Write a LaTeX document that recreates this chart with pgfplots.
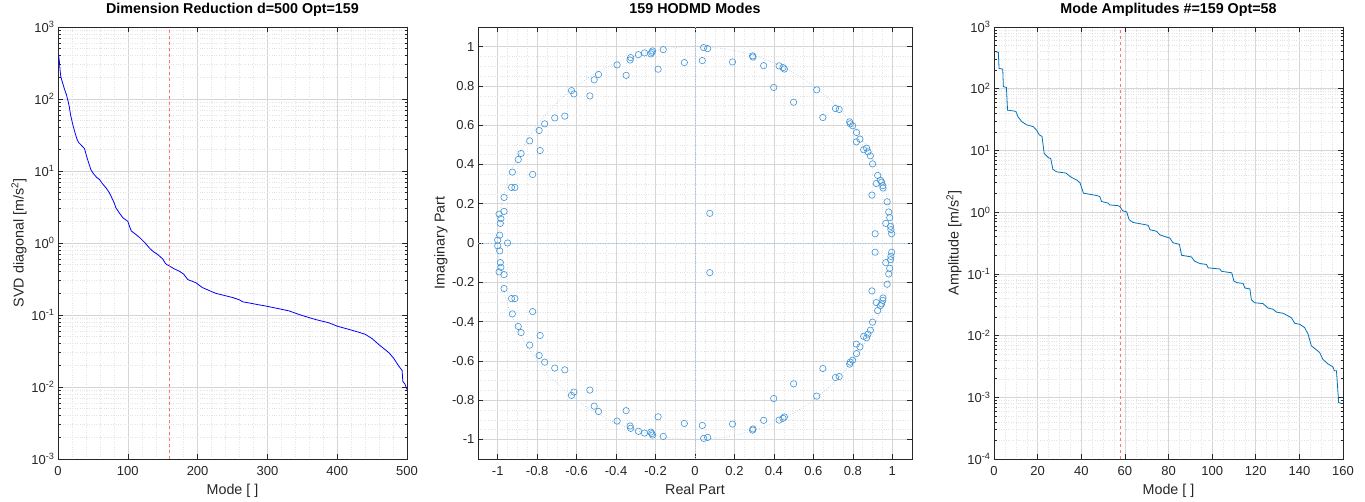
\documentclass[border=0pt]{standalone}
\usepackage{fontspec}
\setmainfont{Liberation Sans}
\usepackage{pgfplots}
\pgfplotsset{compat=1.18}
\usepackage{pgfplotstable}
\definecolor{axgray}{rgb}{0.15,0.15,0.15}
\definecolor{gridgray}{rgb}{0.84,0.84,0.84}
\definecolor{mgridgray}{rgb}{0.89,0.89,0.89}
\definecolor{mblue}{rgb}{0,0.447,0.741}
\definecolor{lred}{rgb}{1,0.45,0.45}
\definecolor{mkblue}{rgb}{0.25,0.58,0.84}
\definecolor{circblue}{rgb}{0.62,0.76,0.9}

\pgfplotstableread{
x y
1 395
2 330
3 250
4 205
6 175
9 140
12 115
14 97
16 80
18 60
21 45
24 35
27 28
29.5 24.9
33 23
38 20.4
41 16
44 12.9
47 10.5
50 9.4
55 8.2
59.5 7.6
64 6.6
69 5.8
73 5.1
76 4.47
80 3.7
83 3.08
88 2.6
93 2.24
100 2.0
102 1.75
105 1.47
110 1.35
117 1.19
124 1.02
131 0.85
136 0.766
143 0.69
150 0.60
154 0.52
156 0.50
159.5 0.48
166 0.44
174 0.405
180 0.37
186 0.31
192 0.295
197.6 0.28
202 0.26
207 0.24
216 0.22
226 0.20
240 0.185
250 0.175
259.5 0.163
265 0.152
274 0.147
285 0.14
298 0.133
315 0.123
331 0.114
345 0.102
355 0.095
370 0.086
388 0.078
400 0.070
417 0.063
430 0.058
440 0.054
450 0.047
459.5 0.039
467 0.034
474 0.030
481 0.025
488 0.0196
493 0.0170
494 0.012
497 0.011
500 0.0092
}\svd

\pgfplotstableread{
x y
1 395
2 390
2.3 213
4 208
4.3 108
5.7 105
6.2 45
10 43
11 35
12.7 29.3
15 25.9
18 24.3
19.5 21.3
20.8 17.8
22 16.9
23 8.95
25 7.6
26 7.4
27 4.93
28.7 4.5
33 4.3
35 3.75
38 3.3
39.4 3.0
41 2.03
47 1.86
48.5 1.79
49.3 1.49
52.4 1.40
53 1.31
57 1.27
57.7 1.23
59 1.05
60.8 1.01
62 0.75
63.8 0.68
70 0.62
70.7 0.61
71.5 0.52
74.5 0.49
76 0.43
79 0.395
80.6 0.38
82 0.32
85 0.30
86 0.20
90.5 0.188
92 0.16
94.4 0.147
97.4 0.142
98.2 0.125
103.5 0.120
104.3 0.11
109 0.104
110 0.076
111.5 0.072
114.2 0.070
115 0.059
117.3 0.057
118 0.038
119.5 0.034
123.3 0.033
125.6 0.028
128 0.0266
129.5 0.024
132.5 0.023
136.3 0.0195
137.9 0.0158
140.2 0.0152
142.4 0.0135
144 0.0105
145.5 0.0068
147 0.0062
149.3 0.0053
150.8 0.0041
153 0.0035
155.4 0.0031
156 0.0027
157 0.0027
158 0.00082
159 0.0008
}\amp

\pgfplotstableread{
x y
0.044 0.995
0.064 0.99
0.037 0.929
-0.054 0.919
0.19 0.922
0.292 0.953
0.294 0.947
0.348 0.903
0.426 0.902
0.446 0.893
0.453 0.886
0.399 0.792
0.50 0.717
0.617 0.78
0.648 0.639
0.712 0.685
0.731 0.68
0.784 0.617
0.787 0.607
0.799 0.597
0.819 0.563
0.836 0.529
0.818 0.515
0.87 0.483
0.855 0.475
0.877 0.464
0.889 0.444
0.90 0.403
0.926 0.344
0.94 0.319
0.946 0.31
0.952 0.292
0.953 0.28
0.919 0.303
0.897 0.244
0.974 0.21
0.982 0.158
0.987 0.129
0.967 0.10
0.991 0.085
0.993 0.068
0.997 0.047
0.913 0.047
0.075 0.151
-0.161 0.985
-0.215 0.978
-0.219 0.971
-0.224 0.963
-0.256 0.968
-0.287 0.959
-0.326 0.944
-0.329 0.932
-0.187 0.885
-0.395 0.907
-0.349 0.854
-0.489 0.858
-0.511 0.831
-0.533 0.749
-0.626 0.776
-0.614 0.759
-0.66 0.646
-0.711 0.637
-0.762 0.607
-0.79 0.573
-0.838 0.52
-0.785 0.471
-0.823 0.349
-0.882 0.456
-0.896 0.425
-0.926 0.361
-0.93 0.283
-0.913 0.283
-0.968 0.232
-0.968 0.161
-0.993 0.147
-0.984 0.124
-0.987 0.10
-0.99 0.04
-1.0 0.015
}\modes

\pgfplotsset{
 matstyle/.style={
  scale only axis,
  axis line style={axgray, line width=0.7pt},
  grid=both,
  major grid style={gridgray, line width=0.6pt},
  minor grid style={mgridgray, dotted, line width=0.4pt},
  tick style={axgray, line width=0.6pt},
  major tick length=5pt, minor tick length=2.5pt,
  minor x tick style={draw=none},
  tick label style={font=\fontsize{13}{15}\selectfont, text=axgray},
  label style={font=\fontsize{14.3}{16}\selectfont, text=axgray},
  title style={font=\fontsize{14.3}{16}\selectfont\bfseries, at={(0.5,1)}, anchor=base, yshift=7pt},
  xlabel style={at={(0.5,0)}, anchor=base, yshift=-36pt},
  /pgf/number format/assume math mode=true,
  xticklabel style={yshift=-4pt},
 },
}

\begin{document}
\begin{tikzpicture}
\useasboundingbox (0,0) rectangle (1365pt,502pt);
% Left axis
\begin{axis}[matstyle, at={(58pt,43pt)}, anchor=south west,
  width=349pt, height=432pt,
  xmin=0, xmax=500, xtick={0,100,...,500}, minor x tick num=4,
  ymode=log, ymin=1e-3, ymax=1e3,
  ytick={1e-3,1e-2,1e-1,1,1e1,1e2,1e3},
  yticklabels={10\textsuperscript{-3},10\textsuperscript{-2},10\textsuperscript{-1},10\textsuperscript{0},10\textsuperscript{1},10\textsuperscript{2},10\textsuperscript{3}},
  title={Dimension Reduction d=500 Opt=159},
  xlabel={Mode [ ]},
  ylabel={SVD diagonal [m/s\textsuperscript{2}]},
  ylabel style={at={(0,0.5)}, anchor=center, yshift=39pt},
]
\addplot[blue, line width=0.8pt] table[x=x,y=y] {\svd};
\addplot[lred, dashed, line width=0.8pt] coordinates {(159,1e-3) (159,1e3)};
\end{axis}
% Middle axis
\begin{axis}[matstyle, at={(478pt,43pt)}, anchor=south west,
  width=434pt, height=432pt,
  xmin=-1.1, xmax=1.1, ymin=-1.1, ymax=1.1,
  xtick={-1,-0.8,...,1.01}, ytick={-1,-0.8,...,1.01},
  minor x tick num=3, minor y tick num=3,
  minor y tick style={draw=none},
  title={159 HODMD Modes},
  xlabel={Real Part},
  ylabel={Imaginary Part},
  ylabel style={at={(0,0.5)}, anchor=center, yshift=37pt},
  xticklabel={\pgfmathprintnumber[fixed,precision=1]{\tick}},
  yticklabel={\pgfmathprintnumber[fixed,precision=1]{\tick}},
]
\draw[circblue, dotted, line width=0.6pt] (axis cs:0,0) ellipse [x radius=1, y radius=1];
\addplot[circblue, dotted, line width=0.6pt] coordinates {(-1.1,0) (1.1,0)};
\addplot[circblue, dotted, line width=0.6pt] coordinates {(0,-1.1) (0,1.1)};
\addplot[only marks, mark=o, mark size=3.2pt, mark options={mkblue, line width=0.6pt}] table[x=x,y=y] {\modes};
\addplot[only marks, mark=o, mark size=3.2pt, mark options={mkblue, line width=0.6pt}] table[x=x,y expr=-\thisrow{y}] {\modes};
\addplot[only marks, mark=o, mark size=3.2pt, mark options={mkblue, line width=0.6pt}] coordinates {(-0.95,0)};
\end{axis}
% Right axis
\begin{axis}[matstyle, at={(994pt,43pt)}, anchor=south west,
  width=349pt, height=432pt,
  xmin=0, xmax=160, xtick={0,20,...,160}, minor x tick num=3,
  ymode=log, ymin=1e-4, ymax=1e3,
  ytick={1e-4,1e-3,1e-2,1e-1,1,1e1,1e2,1e3},
  yticklabels={10\textsuperscript{-4},10\textsuperscript{-3},10\textsuperscript{-2},10\textsuperscript{-1},10\textsuperscript{0},10\textsuperscript{1},10\textsuperscript{2},10\textsuperscript{3}},
  title={Mode Amplitudes \#=159 Opt=58},
  xlabel={Mode [ ]},
  ylabel={Amplitude [m/s\textsuperscript{2}]},
  ylabel style={at={(0,0.5)}, anchor=center, yshift=40pt},
]
\addplot[mblue, line width=0.8pt] table[x=x,y=y] {\amp};
\addplot[lred, dashed, line width=0.8pt] coordinates {(58,1e-4) (58,1e3)};
\end{axis}
\end{tikzpicture}
\end{document}
